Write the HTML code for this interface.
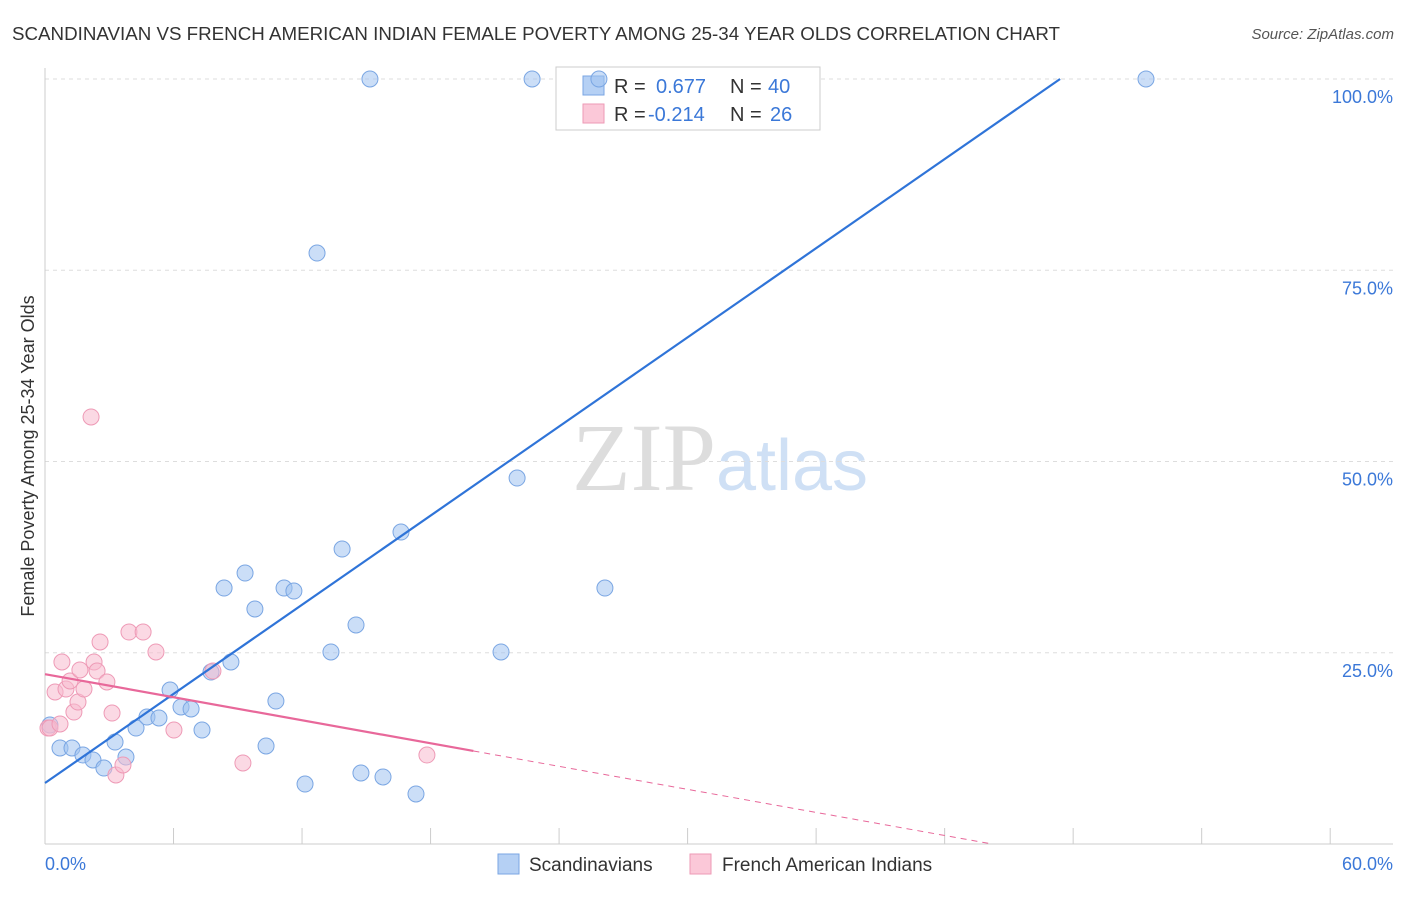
<!DOCTYPE html>
<html><head><meta charset="utf-8"><style>
body{margin:0;background:#fff;width:1406px;height:892px;overflow:hidden;font-family:"Liberation Sans",sans-serif}
</style></head><body>
<svg id="chart" width="1406" height="892" xmlns="http://www.w3.org/2000/svg" font-family="Liberation Sans, sans-serif">
<text x="12" y="40" font-size="18" fill="#333" textLength="1048" lengthAdjust="spacingAndGlyphs">SCANDINAVIAN VS FRENCH AMERICAN INDIAN FEMALE POVERTY AMONG 25-34 YEAR OLDS CORRELATION CHART</text>
<text x="1394" y="39" font-size="15" fill="#555" font-style="italic" text-anchor="end">Source: ZipAtlas.com</text>
<text x="720" y="490" font-size="96" text-anchor="middle"><tspan fill="#ddd" font-family="Liberation Serif, serif">ZIP</tspan><tspan fill="#cfe0f5" font-size="72">atlas</tspan></text>
<text transform="translate(34,456) rotate(-90)" font-size="18" fill="#333" text-anchor="middle">Female Poverty Among 25-34 Year Olds</text>
<g id="grid"></g><g id="axes"></g>
<g>
<rect x="556" y="67" width="264" height="63" fill="#fff" stroke="#ccc"/>
<rect x="583" y="76" width="21" height="19" fill="#b5d0f4" stroke="#7aa6e3"/>
<rect x="583" y="104" width="21" height="19" fill="#fbc8d8" stroke="#ee9ab6"/>
<text x="614" y="93" font-size="20" fill="#333">R =</text><text x="656" y="93" font-size="20" fill="#3b78d8">0.677</text>
<text x="730" y="93" font-size="20" fill="#333">N =</text><text x="768" y="93" font-size="20" fill="#3b78d8">40</text>
<text x="614" y="121" font-size="20" fill="#333">R =</text><text x="648" y="121" font-size="20" fill="#3b78d8">-0.214</text>
<text x="730" y="121" font-size="20" fill="#333">N =</text><text x="770" y="121" font-size="20" fill="#3b78d8">26</text>
</g>
<g id="marks"></g>
<g>
<rect x="498" y="854" width="21" height="20" fill="#b5d0f4" stroke="#7aa6e3"/>
<text x="529" y="871" font-size="19" fill="#333">Scandinavians</text>
<rect x="690" y="854" width="21" height="20" fill="#fbc8d8" stroke="#ee9ab6"/>
<text x="722" y="871" font-size="19" fill="#333">French American Indians</text>
</g>
</svg>
<script>
const blueX=[0.23,0.70,1.26,1.77,2.24,2.75,3.27,3.78,4.25,4.76,5.32,5.84,6.35,6.82,7.33,7.75,8.36,8.68,9.34,9.80,10.32,10.78,11.16,11.62,12.14,12.70,13.35,13.87,14.52,14.75,15.17,15.78,16.62,17.32,21.29,22.04,22.74,25.86,26.14,51.40];
const blueY=[15.56,12.55,12.55,11.63,10.98,9.93,13.33,11.37,15.16,16.60,16.47,20.13,17.91,17.65,14.90,22.48,33.46,23.79,35.42,30.72,12.81,18.69,33.46,33.07,7.84,77.25,25.10,38.56,28.63,9.28,100,8.76,40.78,6.54,25.10,47.84,100,100,33.46,100];
const pinkX=[0.14,0.47,0.79,0.98,1.17,1.35,1.54,1.63,1.82,2.15,2.29,2.43,2.57,2.89,3.13,3.31,3.64,3.92,4.58,5.18,6.02,7.84,9.24,17.83,0.23,0.70];
const pinkY=[15.16,19.87,23.79,20.26,21.31,17.25,18.56,22.75,20.26,55.82,23.79,22.61,26.41,21.18,17.12,9.02,10.33,27.71,27.71,25.10,14.90,22.61,10.59,11.63,15.16,15.69];
const blueTrend=[7.97,1.942];
const pinkTrend=[22.2,-0.502];
const yTicks=[25,50,75,100];
const yTickLabels=["25.0%","50.0%","75.0%","100.0%"];
const xTicks=[0,6,12,18,24,30,36,42,48,54,60];
const xTickLabels=["0.0%","60.0%"];
const sx=v=>45+v*21.42, sy=v=>844-v*7.65;
const NS="http://www.w3.org/2000/svg";
function mk(parent,tag,attrs){const e=document.createElementNS(NS,tag);for(const k in attrs)e.setAttribute(k,attrs[k]);document.getElementById(parent).appendChild(e);return e;}
yTicks.forEach((t,i)=>{
 const l=mk('grid','line',{x1:45,x2:1393,y1:sy(t),y2:sy(t),stroke:'#ddd','stroke-dasharray':'4,4'});
 
 
 const tx=mk('grid','text',{x:1393,y:sy(t)+24,'font-size':18,fill:'#3b78d8','text-anchor':'end'});tx.textContent=yTickLabels[i];
 
 
});
let a=mk('axes','line',{x1:45,x2:45,y1:68,y2:844,stroke:'#ccc'});


a=mk('axes','line',{x1:45,x2:1393,y1:844,y2:844,stroke:'#ccc'});


xTicks.forEach(t=>{const l=mk('axes','line',{x1:sx(t),x2:sx(t),y1:828,y2:844,stroke:'#ccc'});
 
 });
let xl=mk('axes','text',{x:45,y:870,'font-size':18,fill:'#3b78d8'});xl.textContent=xTickLabels[0];


xl=mk('axes','text',{x:1393,y:870,'font-size':18,fill:'#3b78d8','text-anchor':'end'});xl.textContent=xTickLabels[1];


blueX.forEach((x,i)=>{const c=mk('marks','circle',{cx:sx(x),cy:sy(blueY[i]),r:8,fill:'rgba(160,195,240,0.55)',stroke:'#7aa6e3','stroke-width':1});
 
 });
pinkX.forEach((x,i)=>{const c=mk('marks','circle',{cx:sx(x),cy:sy(pinkY[i]),r:8,fill:'rgba(248,185,205,0.55)',stroke:'#ee9ab6','stroke-width':1});
 
 });
const bx2=(100-blueTrend[0])/blueTrend[1];
let tl=mk('marks','line',{x1:sx(0),y1:sy(blueTrend[0]),x2:sx(bx2),y2:sy(100),stroke:'#2f74d8','stroke-width':2.2});


tl=mk('marks','line',{x1:sx(0),y1:sy(pinkTrend[0]),x2:sx(20),y2:sy(pinkTrend[0]+20*pinkTrend[1]),stroke:'#e8689a','stroke-width':2.2});


const px0=-pinkTrend[0]/pinkTrend[1];
tl=mk('marks','line',{x1:sx(20),y1:sy(pinkTrend[0]+20*pinkTrend[1]),x2:sx(px0),y2:sy(0),stroke:'#e8689a','stroke-width':1,'stroke-dasharray':'6,5'});


</script>
</body></html>
